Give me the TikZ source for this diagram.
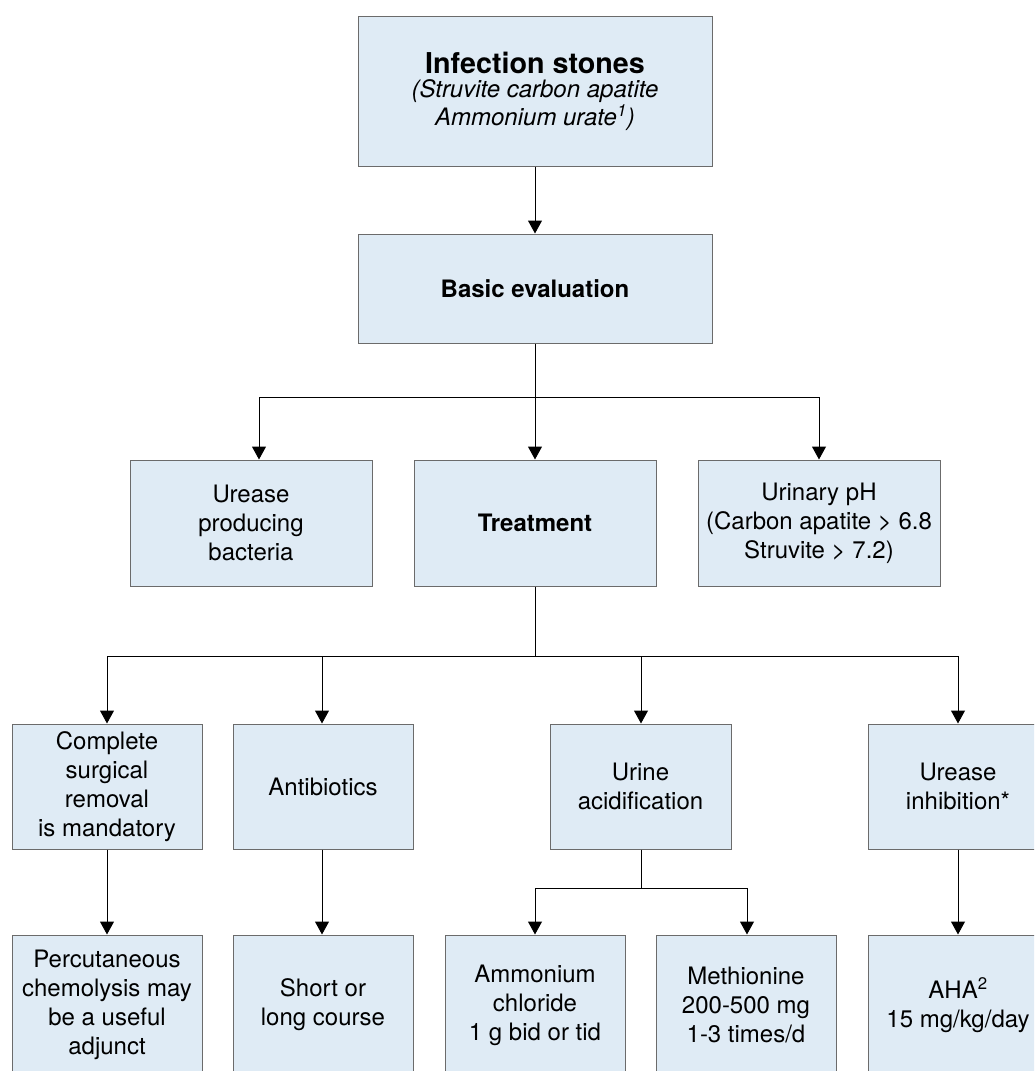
\documentclass[tikz,border=0pt]{standalone}
\usepackage{fontspec}
\setmainfont{TeX Gyre Heros}
\usetikzlibrary{arrows.meta}
\definecolor{boxfill}{HTML}{DFEBF5}
\definecolor{boxborder}{HTML}{6B6B6B}
\begin{document}
\begin{tikzpicture}[x=1pt,y=-1pt,
  box/.style={draw=boxborder, fill=boxfill, line width=1pt, inner sep=0pt, align=center,
    font=\fontsize{24}{29}\selectfont},
  conn/.style={line width=1pt, draw=black},
  arr/.style={conn, -{Triangle[width=14pt,length=13pt]}}]
\useasboundingbox (0,0) rectangle (1034,1071);
\clip (0,0) rectangle (1034,1071);

% row 0 / 1
\node[box, minimum width=354pt, minimum height=150pt] (top) at (535,91)
  {{\fontsize{28.7}{29}\selectfont\bfseries Infection stones}\\[-4.5pt]
   \textit{(Struvite carbon apatite}\\[-1.5pt]
   \textit{Ammonium urate\textsuperscript{1})}};
\node[box, minimum width=354pt, minimum height=109pt] (basic) at (535,288.5)
  {\bfseries Basic evaluation};

% row 2
\node[box, minimum width=242pt, minimum height=126pt] (urease) at (251,523)
  {Urease\\producing\\bacteria};
\node[box, minimum width=242pt, minimum height=126pt] (treat) at (535,523)
  {\bfseries Treatment};
\node[box, minimum width=242pt, minimum height=126pt] (ph) at (819,523)
  {Urinary pH\\(Carbon apatite > 6.8\\Struvite > 7.2)};

% row 3
\node[box, minimum width=190pt, minimum height=125pt] (surg) at (107,786.5)
  {Complete\\surgical\\removal\\is mandatory};
\node[box, minimum width=180pt, minimum height=125pt] (anti) at (323,786.5)
  {Antibiotics};
\node[box, minimum width=181pt, minimum height=125pt] (acid) at (640.5,786.5)
  {Urine\\acidification};
\node[box, minimum width=180pt, minimum height=125pt] (inhib) at (958,786.5)
  {Urease\\inhibition*};

% row 4
\node[box, minimum width=190pt, minimum height=140pt] (perc) at (107,1005)
  {Percutaneous\\chemolysis may\\be a useful\\adjunct};
\node[box, minimum width=180pt, minimum height=140pt] (short) at (323,1005)
  {Short or\\long course};
\node[box, minimum width=180pt, minimum height=140pt] (ammon) at (535,1005)
  {Ammonium\\chloride\\1 g bid or tid};
\node[box, minimum width=180pt, minimum height=140pt] (meth) at (746,1005)
  {Methionine\\200-500 mg\\1-3 times/d};
\node[box, minimum width=180pt, minimum height=140pt] (aha) at (958,1005)
  {AHA\textsuperscript{2}\\15 mg/kg/day};

% connectors
\draw[arr] (top.south) -- (basic.north);

\coordinate (j1) at (535,397);
\coordinate (j1l) at (259,397);
\coordinate (j1r) at (819,397);
\draw[conn] (basic.south) -- (j1);
\draw[conn] (j1l) -- (j1r);
\draw[arr] (j1l) -- (j1l |- urease.north);
\draw[arr] (j1) -- (treat.north);
\draw[arr] (j1r) -- (ph.north);

\coordinate (j2) at (535,656);
\coordinate (j2l) at (107,656);
\coordinate (j2a) at (322,656);
\coordinate (j2b) at (641,656);
\coordinate (j2r) at (958,656);
\draw[conn] (treat.south) -- (j2);
\draw[conn] (j2l) -- (j2r);
\draw[arr] (j2l) -- (surg.north);
\draw[arr] (j2a) -- (j2a |- anti.north);
\draw[arr] (j2b) -- (j2b |- acid.north);
\draw[arr] (j2r) -- (inhib.north);

\coordinate (j3) at (641,888);
\coordinate (j3l) at (535,888);
\coordinate (j3r) at (747,888);
\draw[conn] (j2b |- acid.south) -- (j3);
\draw[conn] (j3l) -- (j3r);
\draw[arr] (j3l) -- (ammon.north);
\draw[arr] (j3r) -- (j3r |- meth.north);

\draw[arr] (surg.south) -- (perc.north);
\draw[arr] (j2a |- anti.south) -- (j2a |- short.north);
\draw[arr] (inhib.south) -- (aha.north);
\end{tikzpicture}
\end{document}
